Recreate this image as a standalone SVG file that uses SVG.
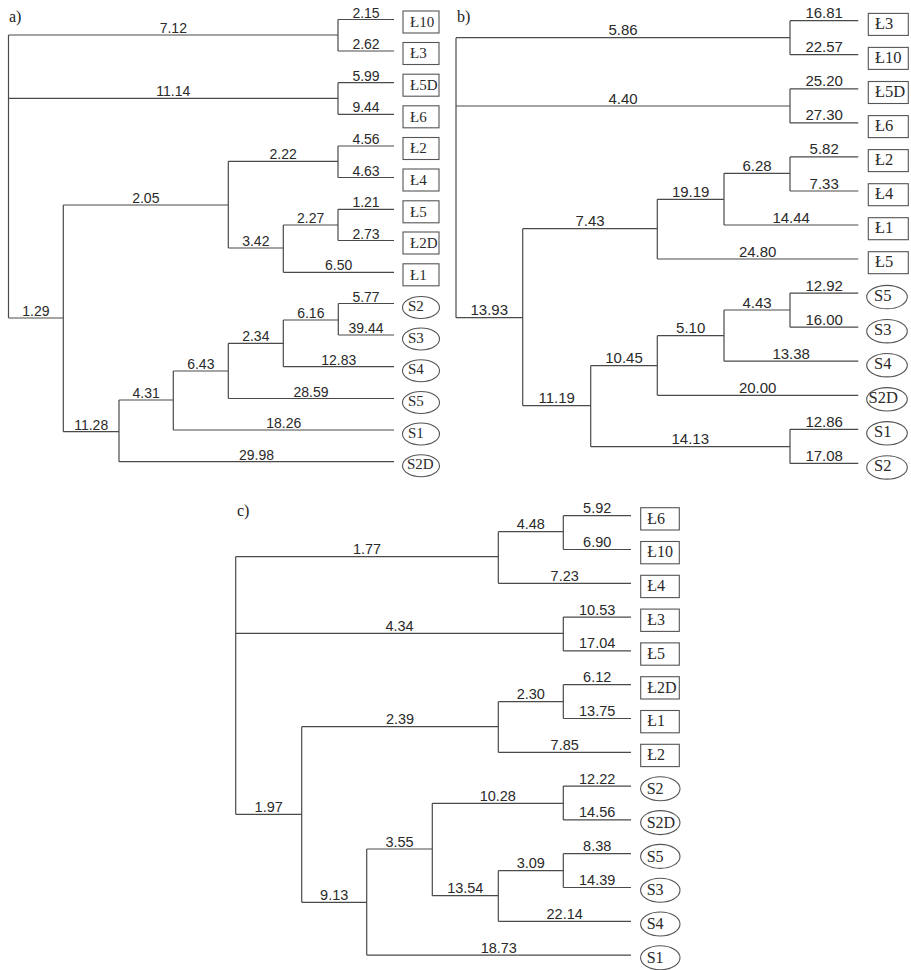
<svg xmlns="http://www.w3.org/2000/svg" width="911" height="970" viewBox="0 0 911 970">
<style>
.bg{fill:#ffffff}
.ln{fill:none;stroke:#4a4a4a;stroke-width:1.2}
.nd{fill:#ffffff;stroke:#555555;stroke-width:1.1}
.lb{font-family:"Liberation Sans",Arial,sans-serif;fill:#2a2a2a;text-anchor:middle}
.la{font-size:14px}
.lbb{font-size:15px}
.lc{font-size:14.5px}
.nt{font-family:"Liberation Serif","Times New Roman",serif;fill:#2a2a2a}
.na{font-size:15px}
.nb{font-size:16.5px}
.nc{font-size:16px}
.pt{font-family:"Liberation Serif","Times New Roman",serif;font-size:16px;fill:#222}
</style>
<rect class="bg" x="0" y="0" width="911" height="970"/>
<text class="pt" x="9" y="21.5">a)</text>
<text class="pt" x="457" y="22">b)</text>
<text class="pt" x="237" y="516">c)</text>

<g id="connectors">
<g id="conn-a">
<path class="ln" d="M8.5,35V318 M8.5,35H338 M338,19.5V51 M338,19.5H394 M338,51H394
M8.5,98.3H338 M338,82.7V114.3 M338,82.7H394 M338,114.3H394
M8.5,318H63.3 M63.3,205V431.7
M63.3,205H228.3 M228.3,161.3V248
M228.3,161.3H338 M338,146V177.5 M338,146H394 M338,177.5H394
M228.3,248H283.3 M283.3,225V272.3
M283.3,225H338 M338,209.3V240.5 M338,209.3H394 M338,240.5H394
M283.3,272.3H394
M63.3,431.7H119 M119,400V461.7
M119,400H173.3 M173.3,371V430
M173.3,371H228.3 M228.3,343.3V398.5
M228.3,343.3H283.3 M283.3,320V366.7
M283.3,320H338.3 M338.3,303.5V335 M338.3,303.5H394 M338.3,335H394
M283.3,366.7H394 M228.3,398.5H394 M173.3,430H394 M119,461.7H394"/>
</g>
<g id="conn-b">
<path class="ln" d="M456,37.7V317.7 M456,37.7H790 M790,20.7V54.7 M790,20.7H858.3 M790,54.7H858.3
M456,106H790 M790,88.8V122.9 M790,88.8H858.3 M790,122.9H858.3
M456,317.7H522.7 M522.7,228.7V405.7
M522.7,228.7H657.3 M657.3,199.3V259
M657.3,199.3H724 M724,173.3V225
M724,173.3H790 M790,156.9V191 M790,156.9H858.3 M790,191H858.3
M724,225H858.3 M657.3,259H858.3
M522.7,405.7H590.7 M590.7,365.7V446.7
M590.7,365.7H657.3 M657.3,335.7V395.3
M657.3,335.7H724 M724,310V361.2
M724,310H790 M790,293.1V327.2 M790,293.1H858.3 M790,327.2H858.3
M724,361.2H858.3 M657.3,395.3H858.3
M590.7,446.7H790 M790,429.3V463.4 M790,429.3H858.3 M790,463.4H858.3"/>
</g>
<g id="conn-c">
<path class="ln" d="M235.7,556.7V814.3 M235.7,556.7H498.3 M498.3,531.7V583.3
M498.3,531.7H563.3 M563.3,515.7V549.5 M563.3,515.7H631 M563.3,549.5H631
M498.3,583.3H631
M235.7,633.3H563.3 M563.3,617.1V650.9 M563.3,617.1H631 M563.3,650.9H631
M235.7,814.3H301.7 M301.7,726.7V902.3
M301.7,726.7H498.3 M498.3,701.7V752.3
M498.3,701.7H563.3 M563.3,684.7V718.5 M563.3,684.7H631 M563.3,718.5H631
M498.3,752.3H631
M301.7,902.3H366.7 M366.7,849V955.1
M366.7,849H432.3 M432.3,803.3V895.7
M432.3,803.3H563.3 M563.3,786.1V819.9 M563.3,786.1H631 M563.3,819.9H631
M432.3,895.7H498.3 M498.3,870.7V921.3
M498.3,870.7H563.3 M563.3,853.7V887.5 M563.3,853.7H631 M563.3,887.5H631
M498.3,921.3H631 M366.7,955.1H631"/>
</g>
</g>

<g id="labels-a" class="lb la">
<text x="173.3" y="33">7.12</text>
<text x="366" y="17.5">2.15</text>
<text x="366" y="49">2.62</text>
<text x="173.3" y="96.3">11.14</text>
<text x="366" y="80.7">5.99</text>
<text x="366" y="112.3">9.44</text>
<text x="366" y="144">4.56</text>
<text x="366" y="175.5">4.63</text>
<text x="283.2" y="159.3">2.22</text>
<text x="145.8" y="203">2.05</text>
<text x="366" y="207.3">1.21</text>
<text x="366" y="238.5">2.73</text>
<text x="310.7" y="223">2.27</text>
<text x="255.8" y="246">3.42</text>
<text x="338.7" y="270.3">6.50</text>
<text x="35.9" y="316">1.29</text>
<text x="366" y="301.5">5.77</text>
<text x="366" y="333">39.44</text>
<text x="310.8" y="318">6.16</text>
<text x="255.8" y="341.3">2.34</text>
<text x="338.7" y="364.7">12.83</text>
<text x="200.8" y="369">6.43</text>
<text x="311" y="396.5">28.59</text>
<text x="146.2" y="398">4.31</text>
<text x="283.7" y="428">18.26</text>
<text x="91.2" y="429.7">11.28</text>
<text x="256.5" y="459.7">29.98</text>
</g>

<g id="labels-b" class="lb lbb">
<text x="623" y="35.2">5.86</text>
<text x="824.2" y="18.2">16.81</text>
<text x="824.2" y="52.2">22.57</text>
<text x="623" y="103.5">4.40</text>
<text x="824.2" y="86.3">25.20</text>
<text x="824.2" y="120.4">27.30</text>
<text x="824.2" y="154.4">5.82</text>
<text x="824.2" y="188.5">7.33</text>
<text x="757" y="170.8">6.28</text>
<text x="690.7" y="196.8">19.19</text>
<text x="791.2" y="222.5">14.44</text>
<text x="590" y="226.2">7.43</text>
<text x="757.7" y="256.5">24.80</text>
<text x="489.3" y="315.2">13.93</text>
<text x="824.2" y="290.6">12.92</text>
<text x="824.2" y="324.7">16.00</text>
<text x="757" y="307.5">4.43</text>
<text x="690.7" y="333.2">5.10</text>
<text x="791.2" y="358.7">13.38</text>
<text x="624" y="363.2">10.45</text>
<text x="757.7" y="392.8">20.00</text>
<text x="556.7" y="403.2">11.19</text>
<text x="824.2" y="426.8">12.86</text>
<text x="824.2" y="460.9">17.08</text>
<text x="690.3" y="444.2">14.13</text>
</g>

<g id="labels-c" class="lb lc">
<text x="530.8" y="529.2">4.48</text>
<text x="597.2" y="513.2">5.92</text>
<text x="597.2" y="547">6.90</text>
<text x="367" y="554.2">1.77</text>
<text x="564.7" y="580.8">7.23</text>
<text x="597.2" y="614.6">10.53</text>
<text x="597.2" y="648.4">17.04</text>
<text x="399.5" y="630.8">4.34</text>
<text x="597.2" y="682.2">6.12</text>
<text x="597.2" y="716">13.75</text>
<text x="530.8" y="699.2">2.30</text>
<text x="400" y="724.2">2.39</text>
<text x="564.7" y="749.8">7.85</text>
<text x="597.2" y="783.6">12.22</text>
<text x="597.2" y="817.4">14.56</text>
<text x="497.8" y="800.8">10.28</text>
<text x="268.7" y="811.8">1.97</text>
<text x="399.5" y="846.5">3.55</text>
<text x="597.2" y="851.2">8.38</text>
<text x="597.2" y="885">14.39</text>
<text x="530.8" y="868.2">3.09</text>
<text x="465.3" y="893.2">13.54</text>
<text x="564.7" y="918.8">22.14</text>
<text x="334.2" y="899.8">9.13</text>
<text x="498.8" y="952.6">18.73</text>
</g>

<!-- Panel a nodes -->
<g id="a-L10"><rect class="nd" x="403" y="11" width="36" height="22"/><text class="nt na" x="410" y="26.8">Ł10</text></g>
<g id="a-L3"><rect class="nd" x="403" y="42.5" width="36" height="22"/><text class="nt na" x="410" y="58.3">Ł3</text></g>
<g id="a-L5D"><rect class="nd" x="403" y="74.2" width="36" height="22"/><text class="nt na" x="410" y="90">Ł5D</text></g>
<g id="a-L6"><rect class="nd" x="403" y="105.8" width="36" height="22"/><text class="nt na" x="410" y="121.6">Ł6</text></g>
<g id="a-L2"><rect class="nd" x="403" y="137.5" width="36" height="22"/><text class="nt na" x="410" y="153.3">Ł2</text></g>
<g id="a-L4"><rect class="nd" x="403" y="169" width="36" height="22"/><text class="nt na" x="410" y="184.8">Ł4</text></g>
<g id="a-L5"><rect class="nd" x="403" y="200.8" width="36" height="22"/><text class="nt na" x="410" y="216.6">Ł5</text></g>
<g id="a-L2D"><rect class="nd" x="403" y="232" width="36" height="22"/><text class="nt na" x="410" y="247.8">Ł2D</text></g>
<g id="a-L1"><rect class="nd" x="403" y="263.8" width="36" height="22"/><text class="nt na" x="410" y="279.6">Ł1</text></g>
<g id="a-S2"><ellipse class="nd" cx="421" cy="307.5" rx="18.5" ry="11"/><text class="nt na" x="408" y="311.2">S2</text></g>
<g id="a-S3"><ellipse class="nd" cx="421" cy="339" rx="18.5" ry="11"/><text class="nt na" x="408" y="342.7">S3</text></g>
<g id="a-S4"><ellipse class="nd" cx="421" cy="370.7" rx="18.5" ry="11"/><text class="nt na" x="408" y="374.4">S4</text></g>
<g id="a-S5"><ellipse class="nd" cx="421" cy="402.5" rx="18.5" ry="11"/><text class="nt na" x="408" y="406.2">S5</text></g>
<g id="a-S1"><ellipse class="nd" cx="421" cy="434" rx="18.5" ry="11"/><text class="nt na" x="408" y="437.7">S1</text></g>
<g id="a-S2D"><ellipse class="nd" cx="421" cy="465.7" rx="18.5" ry="11"/><text class="nt na" x="407" y="469.4">S2D</text></g>

<!-- Panel b nodes -->
<g id="b-L3"><rect class="nd" x="868.3" y="13.4" width="40" height="22"/><text class="nt nb" x="875" y="29">Ł3</text></g>
<g id="b-L10"><rect class="nd" x="868.3" y="47.4" width="40" height="22"/><text class="nt nb" x="875" y="63">Ł10</text></g>
<g id="b-L5D"><rect class="nd" x="868.3" y="81.5" width="40" height="22"/><text class="nt nb" x="875" y="97.1">Ł5D</text></g>
<g id="b-L6"><rect class="nd" x="868.3" y="115.6" width="40" height="22"/><text class="nt nb" x="875" y="131.2">Ł6</text></g>
<g id="b-L2"><rect class="nd" x="868.3" y="149.6" width="40" height="22"/><text class="nt nb" x="875" y="165.2">Ł2</text></g>
<g id="b-L4"><rect class="nd" x="868.3" y="183.7" width="40" height="22"/><text class="nt nb" x="875" y="199.3">Ł4</text></g>
<g id="b-L1"><rect class="nd" x="868.3" y="217.7" width="40" height="22"/><text class="nt nb" x="875" y="233.3">Ł1</text></g>
<g id="b-L5"><rect class="nd" x="868.3" y="251.7" width="40" height="22"/><text class="nt nb" x="875" y="267.3">Ł5</text></g>
<g id="b-S5"><ellipse class="nd" cx="887" cy="297.1" rx="20.3" ry="11.7"/><text class="nt nb" x="874" y="300.6">S5</text></g>
<g id="b-S3"><ellipse class="nd" cx="887" cy="331.2" rx="20.3" ry="11.7"/><text class="nt nb" x="874" y="334.7">S3</text></g>
<g id="b-S4"><ellipse class="nd" cx="887" cy="365.2" rx="20.3" ry="11.7"/><text class="nt nb" x="874" y="368.7">S4</text></g>
<g id="b-S2D"><ellipse class="nd" cx="887" cy="399.3" rx="20.3" ry="11.7"/><text class="nt nb" x="868.5" y="402.8">S2D</text></g>
<g id="b-S1"><ellipse class="nd" cx="887" cy="433.3" rx="20.3" ry="11.7"/><text class="nt nb" x="874" y="436.8">S1</text></g>
<g id="b-S2"><ellipse class="nd" cx="887" cy="467.4" rx="20.3" ry="11.7"/><text class="nt nb" x="874" y="470.9">S2</text></g>

<!-- Panel c nodes -->
<g id="c-L6"><rect class="nd" x="640.7" y="507.7" width="38.6" height="22.3"/><text class="nt nc" x="647.3" y="523.5">Ł6</text></g>
<g id="c-L10"><rect class="nd" x="640.7" y="541.5" width="38.6" height="22.3"/><text class="nt nc" x="647.3" y="557.3">Ł10</text></g>
<g id="c-L4"><rect class="nd" x="640.7" y="575.3" width="38.6" height="22.3"/><text class="nt nc" x="647.3" y="591.1">Ł4</text></g>
<g id="c-L3"><rect class="nd" x="640.7" y="609.1" width="38.6" height="22.3"/><text class="nt nc" x="647.3" y="624.9">Ł3</text></g>
<g id="c-L5"><rect class="nd" x="640.7" y="642.9" width="38.6" height="22.3"/><text class="nt nc" x="647.3" y="658.7">Ł5</text></g>
<g id="c-L2D"><rect class="nd" x="640.7" y="676.7" width="38.6" height="22.3"/><text class="nt nc" x="647.3" y="692.5">Ł2D</text></g>
<g id="c-L1"><rect class="nd" x="640.7" y="710.5" width="38.6" height="22.3"/><text class="nt nc" x="647.3" y="726.3">Ł1</text></g>
<g id="c-L2"><rect class="nd" x="640.7" y="744.3" width="38.6" height="22.3"/><text class="nt nc" x="647.3" y="760.1">Ł2</text></g>
<g id="c-S2"><ellipse class="nd" cx="660.3" cy="788.8" rx="19.7" ry="12"/><text class="nt nc" x="646.7" y="794">S2</text></g>
<g id="c-S2D"><ellipse class="nd" cx="660.3" cy="822.6" rx="19.7" ry="12"/><text class="nt nc" x="646.7" y="827.8">S2D</text></g>
<g id="c-S5"><ellipse class="nd" cx="660.3" cy="856.4" rx="19.7" ry="12"/><text class="nt nc" x="646.7" y="861.6">S5</text></g>
<g id="c-S3"><ellipse class="nd" cx="660.3" cy="890.2" rx="19.7" ry="12"/><text class="nt nc" x="646.7" y="895.4">S3</text></g>
<g id="c-S4"><ellipse class="nd" cx="660.3" cy="924" rx="19.7" ry="12"/><text class="nt nc" x="646.7" y="929.2">S4</text></g>
<g id="c-S1"><ellipse class="nd" cx="660.3" cy="957.8" rx="19.7" ry="12"/><text class="nt nc" x="646.7" y="963">S1</text></g>
</svg>
